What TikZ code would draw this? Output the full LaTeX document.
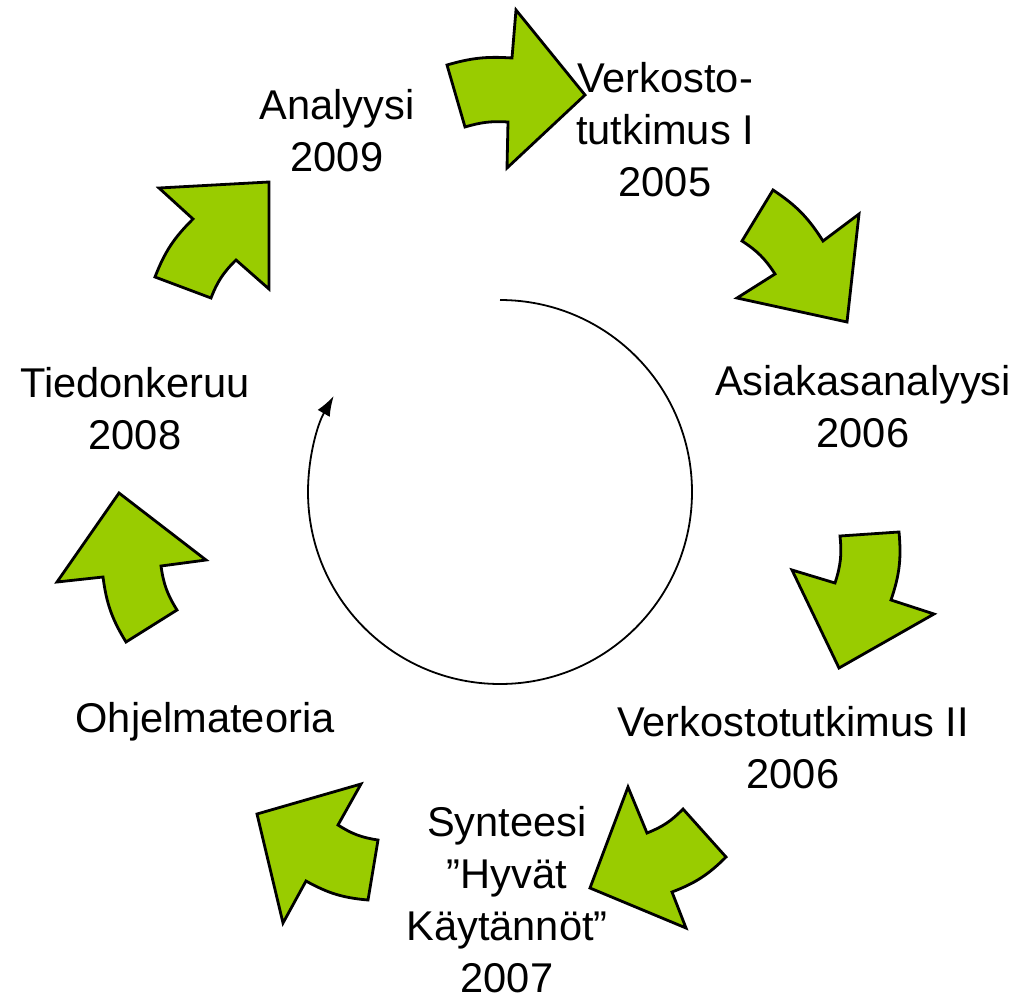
\documentclass[tikz,border=0pt]{standalone}
\usepackage{fontspec}
\setmainfont{Liberation Sans}
\usetikzlibrary{arrows.meta}
\definecolor{leaf}{HTML}{99CC00}
\tikzset{
  blockarrow/.style={draw=black, line width=1.4pt, fill=leaf, line join=miter},
  phase/.style={align=center, inner sep=0pt, font=\fontsize{20.8}{26}\selectfont},
  roundtrip/.style={line width=0.9pt, -{Latex[length=10pt,width=7pt]}}
}
\begin{document}
\begin{tikzpicture}[x=0.5pt, y=-0.5pt]
      \useasboundingbox (0,0) rectangle (1022,995);
      % green block arrows, clockwise from the top
      \filldraw[blockarrow] (447,65) to[bend left=10] (512,58) -- (516,10) -- (585,95)
            -- (507,168) -- (508,122) to[bend right=10] (465,127) -- cycle;
      \filldraw[blockarrow] (773,190) to[bend left=12] (823,241) -- (859,214) -- (847,322)
            -- (737,298) -- (775,274) to[bend right=12] (742,241) -- cycle;
      \filldraw[blockarrow] (899,532) to[bend left=12] (891,600) -- (934,614) -- (839,668)
            -- (792,570) -- (835,583) to[bend right=12] (840,536) -- cycle;
      \filldraw[blockarrow] (726,857) to[bend left=12] (672,892) -- (686,928) -- (590,888)
            -- (628,787) -- (647,833) to[bend right=12] (683,809) -- cycle;
      \filldraw[blockarrow] (368,900) to[bend left=12] (306,881) -- (283,923) -- (257,814)
            -- (361,784) -- (338,825) to[bend right=12] (378,840) -- cycle;
      \filldraw[blockarrow] (126,642) to[bend left=12] (103,577) -- (57,582) -- (119,493)
            -- (206,560) -- (161,566) to[bend right=12] (177,610) -- cycle;
      \filldraw[blockarrow] (155,277) to[bend left=12] (193,219) -- (159,188) -- (269,182)
            -- (269,289) -- (236,260) to[bend right=12] (211,298) -- cycle;
      % the round in the middle
      \coordinate (loopstart) at (500,300);
      \draw[roundtrip] (loopstart) arc[start angle=-90, end angle=210, radius=192];
      % phases
      \node[phase] (verk1) at (665,130) {Verkosto-\\tutkimus I\\2005};
      \node[phase] (asiakas) at (863,407) {Asiakasanalyysi\\2006};
      \node[phase] (verk2) at (793,748) {Verkostotutkimus II\\2006};
      \node[phase] (synt) at (507,900) {Synteesi\\”Hyvät\\Käytännöt”\\2007};
      \node[phase] (ohj) at (205,722) {Ohjelmateoria};
      \node[phase] (tied) at (135,409) {Tiedonkeruu\\2008};
      \node[phase] (anal) at (337,131) {Analyysi\\2009};
\end{tikzpicture}
\end{document}
